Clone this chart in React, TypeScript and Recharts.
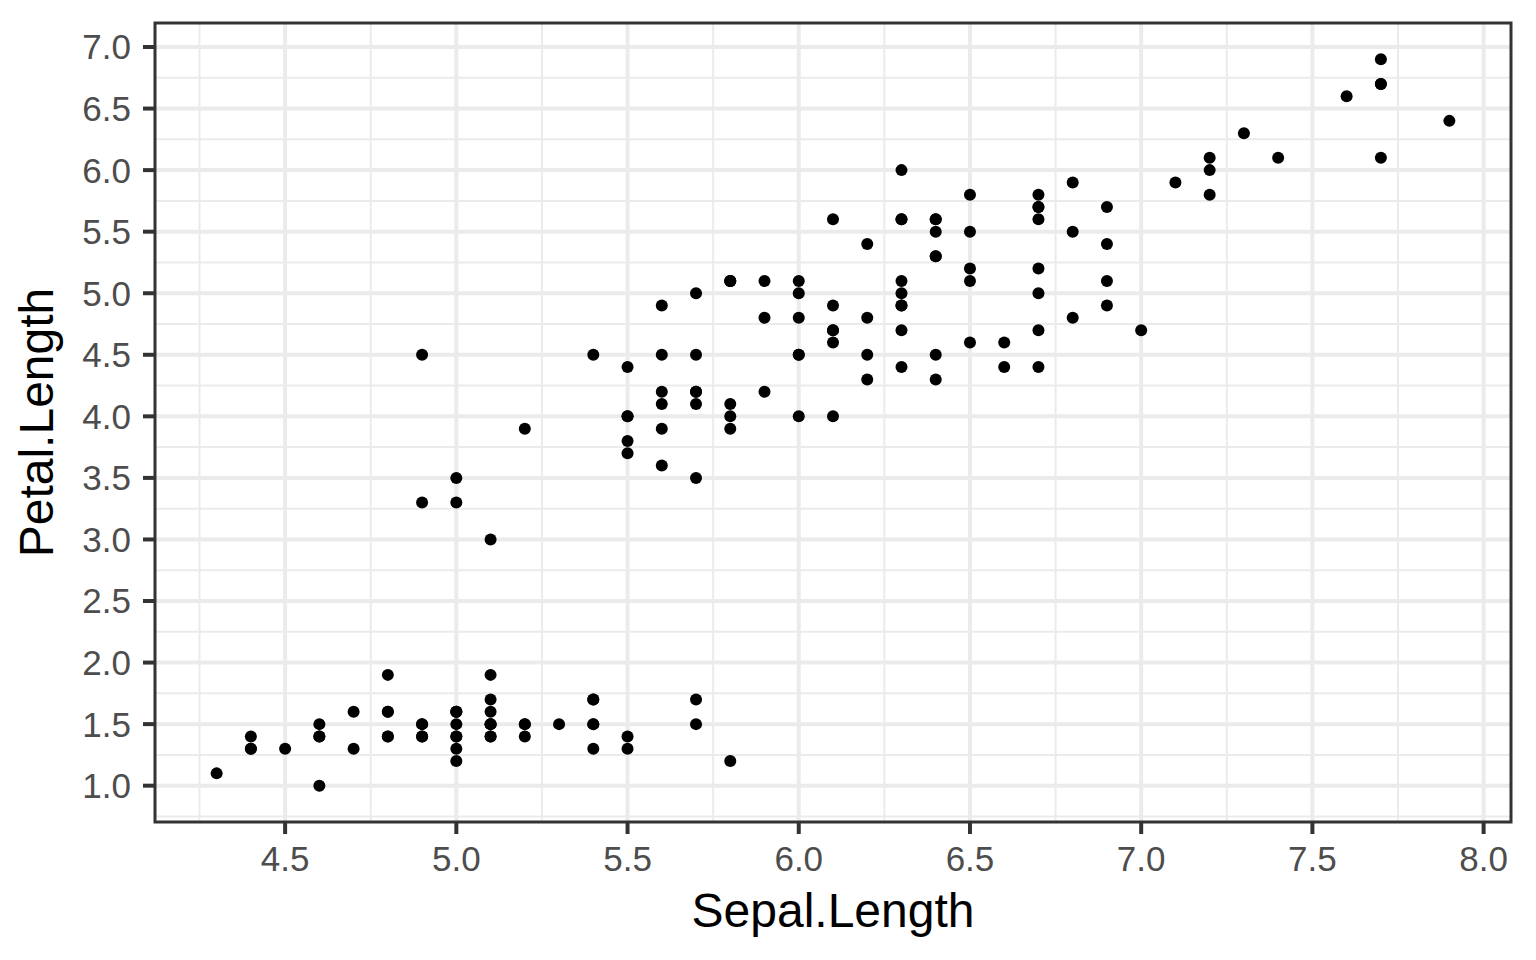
import { ScatterChart, Scatter, XAxis, YAxis, CartesianGrid, ReferenceArea } from 'recharts';

// iris: Sepal.Length vs Petal.Length per species group
const setosaSepal = [
  5.1, 4.9, 4.7, 4.6, 5.0, 5.4, 4.6, 5.0, 4.4, 4.9, 5.4, 4.8, 4.8, 4.3, 5.8, 5.7, 5.4, 5.1, 5.7, 5.1, 5.4, 5.1, 4.6, 5.1, 4.8,
  5.0, 5.0, 5.2, 5.2, 4.7, 4.8, 5.4, 5.2, 5.5, 4.9, 5.0, 5.5, 4.9, 4.4, 5.1, 5.0, 4.5, 4.4, 5.0, 5.1, 4.8, 5.1, 4.6, 5.3, 5.0,
];
const setosaPetal = [
  1.4, 1.4, 1.3, 1.5, 1.4, 1.7, 1.4, 1.5, 1.4, 1.5, 1.5, 1.6, 1.4, 1.1, 1.2, 1.5, 1.3, 1.4, 1.7, 1.5, 1.7, 1.5, 1.0, 1.7, 1.9,
  1.6, 1.6, 1.5, 1.4, 1.6, 1.6, 1.5, 1.5, 1.4, 1.5, 1.2, 1.3, 1.4, 1.3, 1.5, 1.3, 1.3, 1.3, 1.6, 1.9, 1.4, 1.6, 1.4, 1.5, 1.4,
];
const versicolorSepal = [
  7.0, 6.4, 6.9, 5.5, 6.5, 5.7, 6.3, 4.9, 6.6, 5.2, 5.0, 5.9, 6.0, 6.1, 5.6, 6.7, 5.6, 5.8, 6.2, 5.6, 5.9, 6.1, 6.3, 6.1, 6.4,
  6.6, 6.8, 6.7, 6.0, 5.7, 5.5, 5.5, 5.8, 6.0, 5.4, 6.0, 6.7, 6.3, 5.6, 5.5, 5.5, 6.1, 5.8, 5.0, 5.6, 5.7, 5.7, 6.2, 5.1, 5.7,
];
const versicolorPetal = [
  4.7, 4.5, 4.9, 4.0, 4.6, 4.5, 4.7, 3.3, 4.6, 3.9, 3.5, 4.2, 4.0, 4.7, 3.6, 4.4, 4.5, 4.1, 4.5, 3.9, 4.8, 4.0, 4.9, 4.7, 4.3,
  4.4, 4.8, 5.0, 4.5, 3.5, 3.8, 3.7, 3.9, 5.1, 4.5, 4.5, 4.7, 4.4, 4.1, 4.0, 4.4, 4.6, 4.0, 3.3, 4.2, 4.2, 4.2, 4.3, 3.0, 4.1,
];
const virginicaSepal = [
  6.3, 5.8, 7.1, 6.3, 6.5, 7.6, 4.9, 7.3, 6.7, 7.2, 6.5, 6.4, 6.8, 5.7, 5.8, 6.4, 6.5, 7.7, 7.7, 6.0, 6.9, 5.6, 7.7, 6.3, 6.7,
  7.2, 6.2, 6.1, 6.4, 7.2, 7.4, 7.9, 6.4, 6.3, 6.1, 7.7, 6.3, 6.4, 6.0, 6.9, 6.7, 6.9, 5.8, 6.8, 6.7, 6.7, 6.3, 6.5, 6.2, 5.9,
];
const virginicaPetal = [
  6.0, 5.1, 5.9, 5.6, 5.8, 6.6, 4.5, 6.3, 5.8, 6.1, 5.1, 5.3, 5.5, 5.0, 5.1, 5.3, 5.5, 6.7, 6.9, 5.0, 5.7, 4.9, 6.7, 4.9, 5.7,
  6.0, 4.8, 4.9, 5.6, 5.8, 6.1, 6.4, 5.6, 5.1, 5.6, 6.1, 5.6, 5.5, 4.8, 5.4, 5.6, 5.1, 5.1, 5.9, 5.7, 5.2, 5.0, 5.2, 5.4, 5.1,
];

const xTicks = [4.5, 5.0, 5.5, 6.0, 6.5, 7.0, 7.5, 8.0];
const xMinor = [4.25, 4.75, 5.25, 5.75, 6.25, 6.75, 7.25, 7.75];
const yTicks = [1.0, 1.5, 2.0, 2.5, 3.0, 3.5, 4.0, 4.5, 5.0, 5.5, 6.0, 6.5, 7.0];
const yMinor = [0.75, 1.25, 1.75, 2.25, 2.75, 3.25, 3.75, 4.25, 4.75, 5.25, 5.75, 6.25, 6.75];

const sepal = [...setosaSepal, ...versicolorSepal, ...virginicaSepal];
const petal = [...setosaPetal, ...versicolorPetal, ...virginicaPetal];
const data = sepal.map((s, i) => ({ sepal: s, petal: petal[i] }));

// ggplot default 5% expansion
const X_DOMAIN: [number, number] = [4.12, 8.08];
const Y_DOMAIN: [number, number] = [0.705, 7.195];

const FONT = '"Liberation Sans", Arial, Helvetica, sans-serif';
const tickStyle = { fill: '#4D4D4D', fontSize: 35, fontFamily: FONT };

const Dot = (props: any) => <circle cx={props.cx} cy={props.cy} r={6} fill="#000000" />;

const App = () => {
  return (
    <div style={{ position: 'absolute', left: 0, top: 0, width: 1536, height: 960, background: '#fff' }}>
      <ScatterChart width={1536} height={960} margin={{ top: 23, right: 25, bottom: 0, left: 0 }}>
        {/* minor grid */}
        <CartesianGrid
          stroke="#EBEBEB"
          strokeWidth={2}
          horizontalValues={yMinor}
          verticalValues={xMinor}
        />
        {/* major grid */}
        <CartesianGrid
          stroke="#EBEBEB"
          strokeWidth={4}
          horizontalValues={yTicks}
          verticalValues={xTicks}
        />

        <XAxis
          type="number"
          dataKey="sepal"
          domain={X_DOMAIN}
          ticks={xTicks}
          allowDataOverflow
          height={138}
          axisLine={false}
          tickLine={{ stroke: '#333333', strokeWidth: 4 }}
          tickSize={12}
          tickMargin={12}
          tick={tickStyle}
          tickFormatter={(v: number) => v.toFixed(1)}
          interval={0}
          label={{
            value: 'Sepal.Length',
            position: 'insideBottom',
            offset: 33,
            fill: '#000000',
            fontSize: 48,
            fontFamily: FONT,
          }}
        />
        <YAxis
          type="number"
          dataKey="petal"
          domain={Y_DOMAIN}
          ticks={yTicks}
          allowDataOverflow
          width={155}
          axisLine={false}
          tickLine={{ stroke: '#333333', strokeWidth: 4 }}
          tickSize={12}
          tickMargin={12}
          tick={tickStyle}
          tickFormatter={(v: number) => v.toFixed(1)}
          interval={0}
          label={{
            value: 'Petal.Length',
            angle: -90,
            position: 'insideLeft',
            offset: 36,
            fill: '#000000',
            fontSize: 48,
            fontFamily: FONT,
            style: { textAnchor: 'middle' },
          }}
        />

        <Scatter data={data} shape={Dot} isAnimationActive={false} />

        {/* panel border */}
        <ReferenceArea
          x1={X_DOMAIN[0]}
          x2={X_DOMAIN[1]}
          y1={Y_DOMAIN[0]}
          y2={Y_DOMAIN[1]}
          fill="none"
          stroke="#333333"
          strokeWidth={3}
          ifOverflow="visible"
        />
      </ScatterChart>
    </div>
  );
};

export default App;
